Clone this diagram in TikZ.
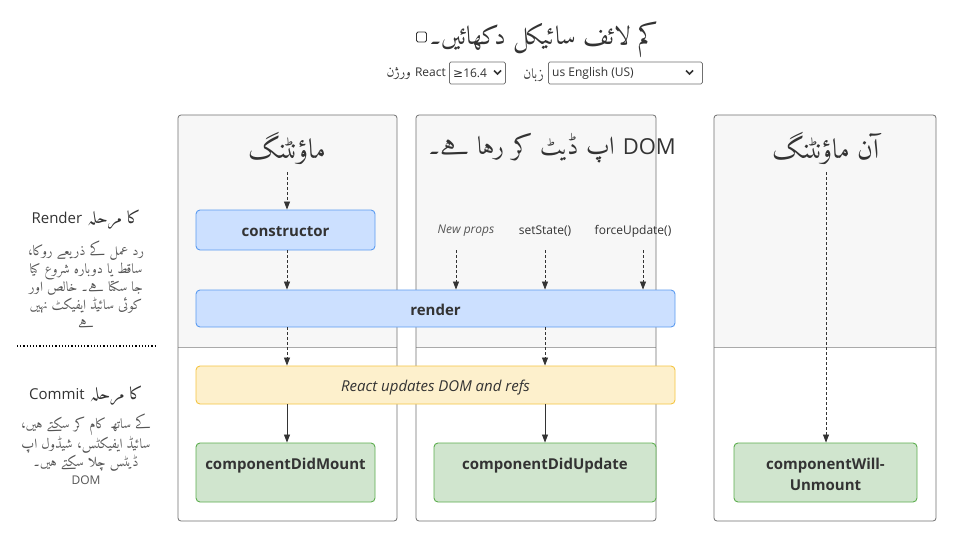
\documentclass[tikz,border=0pt]{standalone}
\usepackage{fontspec}
\setmainfont{Open Sans}
\IfFontExistsTF{Amiri-Regular.ttf}
  {\newfontfamily\ur[Script=Arabic,Scale=1.15]{Amiri-Regular.ttf}}
  {\newfontfamily\ur[Script=Arabic]{DejaVu Sans}}
\newfontfamily\dv{DejaVu Sans}
\TeXXeTstate=1
\usetikzlibrary{arrows.meta}
\definecolor{txt}{HTML}{333333}
\definecolor{panelfill}{HTML}{F7F7F7}
\definecolor{panelline}{HTML}{707070}
\definecolor{sepline}{HTML}{AAAAAA}
\definecolor{bluefill}{HTML}{CCE0FF}
\definecolor{blueline}{HTML}{5B9BF0}
\definecolor{yelfill}{HTML}{FDF0CC}
\definecolor{yelline}{HTML}{F5C542}
\definecolor{grnfill}{HTML}{D0E5CE}
\definecolor{grnline}{HTML}{5DAE4F}
\definecolor{graytxt}{HTML}{555555}
\tikzset{
  box/.style={draw, rounded corners=4pt, line width=0.9pt, inner sep=0pt, text=txt, align=center},
  bluebox/.style={box, fill=bluefill, draw=blueline, font=\fontsize{15}{18}\selectfont\bfseries, text height=13pt, text depth=0pt},
  yelbox/.style={box, fill=yelfill, draw=yelline, font=\fontsize{15}{18}\selectfont\itshape, text height=12pt, text depth=0pt},
  grnbox/.style={box, fill=grnfill, draw=grnline},
  grntext/.style={text=txt, align=center, inner sep=0pt, anchor=north, font=\fontsize{15}{21}\selectfont\bfseries},
  dasharr/.style={draw=txt, dashed, dash pattern=on 3pt off 2pt, line width=0.8pt, -{Triangle[length=8pt,width=6pt]}},
  solarr/.style={draw=txt, line width=0.8pt, -{Triangle[length=8pt,width=6pt]}},
  hdr/.style={text=txt, font=\ur\fontsize{24}{28}\selectfont},
  lbl/.style={text=txt, font=\fontsize{12}{14}\selectfont},
  phase/.style={text=txt, font=\ur\fontsize{15}{18}\selectfont},
  phasedesc/.style={text=graytxt, align=center, font=\ur\fontsize{12}{18}\selectfont},
  selbox/.style={draw=panelline, line width=0.8pt, rounded corners=1.5pt, minimum height=22pt, inner sep=0pt},
}
\newcommand{\mypanel}[2]{%
  \begin{scope}
    \clip[rounded corners=3pt] (#1,115) rectangle (#2,521);
    \fill[white] (#1,115) rectangle (#2,521);
    \fill[panelfill] (#1,115) rectangle (#2,347);
    \draw[sepline, line width=0.8pt] (#1,347) -- (#2,347);
  \end{scope}
  \draw[panelline, line width=0.8pt, rounded corners=3pt] (#1,115) rectangle (#2,521);
}
\begin{document}
\begin{tikzpicture}[x=1pt,y=-1pt]
\useasboundingbox (0,0) rectangle (956,552);
\fill[white] (0,0) rectangle (956,552);

% top controls
\node[draw=txt, line width=0.8pt, rounded corners=1.5pt, minimum size=10pt, inner sep=0pt] (chk) at (421.5,37) {};
\node[anchor=west, text=txt, font=\ur\fontsize{22.5}{26}\selectfont, inner sep=0pt] (title) at (429,40) {\beginR کم لائف سائیکل دکھائیں۔\endR};

\node[anchor=east, text=txt, font=\ur\fontsize{12}{14}\selectfont, inner sep=0pt] (ver) at (446,74) {\beginR\beginL{\normalfont React}\endL{} ورژن\endR};
\node[selbox, minimum width=56pt, anchor=west] (sel1) at (449,73) {};
\node[anchor=west, text=txt, font=\fontsize{12}{14}\selectfont, inner sep=0pt] (sel1t) at (453,73) {{\dv ≥}16.4};
\draw[txt, line width=1.6pt] (494,70.5) -- (497.5,74) -- (501,70.5);
\node[anchor=east, text=txt, font=\ur\fontsize{12}{14}\selectfont, inner sep=0pt] (lang) at (544,75) {\beginR زبان\endR};
\node[selbox, minimum width=154pt, anchor=west] (sel2) at (548,73) {};
\node[anchor=west, text=txt, font=\fontsize{12}{14}\selectfont, inner sep=0pt] (sel2t) at (552,73) {us English (US)};
\draw[txt, line width=1.6pt] (686,70.5) -- (689.5,74) -- (693,70.5);

% panels
\mypanel{178}{397}
\mypanel{416}{656}
\mypanel{714}{936}

% headers
\node[hdr] (h1) at (287,148) {\beginR ماؤنٹنگ\endR};
\node[hdr, font=\ur\fontsize{22}{26}\selectfont] (h2) at (552,148) {\beginR\beginL{\normalfont DOM}\endL{} اپ ڈیٹ کر رہا ہے۔\endR};
\node[hdr] (h3) at (826,148) {\beginR آن ماؤنٹنگ\endR};

% left phases
\node[phase] (rph) at (86,220) {\beginR کا مرحلہ \beginL{\normalfont Render}\endL\endR};
\node[phasedesc, anchor=north] (rdesc) at (86,237) {\beginR رد عمل کے ذریعے روکا،\endR\\ \beginR ساقط یا دوبارہ شروع کیا\endR\\ \beginR جا سکتا ہے۔ خالص اور\endR\\ \beginR کوئی سائیڈ ایفیکٹ نہیں\endR\\ \beginR ہے\endR};
\draw[black, line width=1.2pt, dotted] (17,346) -- (157,346);
\node[phase] (cph) at (86,396) {\beginR کا مرحلہ \beginL{\normalfont Commit}\endL\endR};
\node[phasedesc, anchor=north] (cdesc) at (86,410) {\beginR کے ساتھ کام کر سکتے ہیں،\endR\\ \beginR سائیڈ ایفیکٹس، شیڈول اپ\endR\\ \beginR ڈیٹس چلا سکتے ہیں۔\endR\\ \beginL{\normalfont DOM}\endL};

% boxes
\node[bluebox, minimum width=179pt, minimum height=40pt] (ctor) at (285.5,230) {constructor};
\node[bluebox, minimum width=479pt, minimum height=37pt] (render) at (435.5,308.5) {render};
\node[yelbox, minimum width=479pt, minimum height=38pt] (dom) at (435.5,385) {React updates DOM and refs};
\node[grnbox, minimum width=179pt, minimum height=59pt] (cdm) at (285.5,472.5) {};
\node[grnbox, minimum width=222pt, minimum height=59pt] (cdu) at (545,472.5) {};
\node[grnbox, minimum width=183pt, minimum height=59pt] (cwu) at (825.5,472.5) {};
\node[grntext] (cdmt) at (285.5,458) {componentDidMount};
\node[grntext] (cdut) at (545,458) {componentDidUpdate};
\node[grntext] (cwut) at (825.5,458) {componentWill-\\Unmount};

% update labels
\node[lbl, font=\fontsize{12}{14}\selectfont\itshape, text=graytxt] (np) at (466,231) {New props};
\node[lbl] (ss) at (545,231) {setState()};
\node[lbl] (fu) at (633,231) {forceUpdate()};

% connectors
\coordinate (m0) at (287,172);
\coordinate (u0) at (826,172);
\coordinate (a1) at (456,250);
\coordinate (a2) at (545,250);
\coordinate (a3) at (643,250);
\draw[dasharr] (m0) -- (m0 |- ctor.north);
\draw[dasharr] (m0 |- ctor.south) -- (m0 |- render.north);
\draw[dasharr] (m0 |- render.south) -- (m0 |- dom.north);
\draw[solarr] (m0 |- dom.south) -- (m0 |- cdm.north);
\draw[dasharr] (a1) -- (a1 |- render.north);
\draw[dasharr] (a2) -- (a2 |- render.north);
\draw[dasharr] (a3) -- (a3 |- render.north);
\draw[dasharr] (a2 |- render.south) -- (a2 |- dom.north);
\draw[solarr] (a2 |- dom.south) -- (a2 |- cdu.north);
\draw[dasharr] (u0) -- (u0 |- cwu.north);
\end{tikzpicture}
\end{document}
